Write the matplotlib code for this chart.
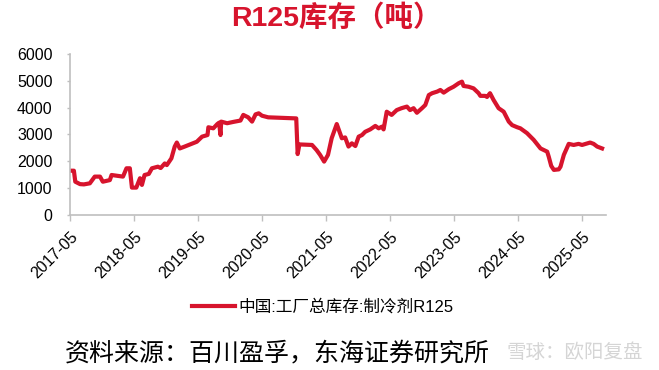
import matplotlib
matplotlib.use('Agg')
import matplotlib.pyplot as plt
import pandas as pd

plt.rcParams['font.family'] = ['Liberation Sans', 'Noto Sans CJK SC', 'DejaVu Sans']

# ---------------- data (tons)
dates = [
    '2017-05-01', '2017-05-24', '2017-06-01', '2017-06-28', '2017-07-20', '2017-08-23',
    '2017-09-20', '2017-10-20', '2017-11-05', '2017-12-15', '2017-12-25', '2018-02-28',
    '2018-03-20', '2018-04-08', '2018-04-20', '2018-05-15', '2018-06-05', '2018-06-16',
    '2018-07-01', '2018-07-25', '2018-08-12', '2018-09-15', '2018-10-01', '2018-10-24',
    '2018-11-05', '2018-12-01', '2018-12-20', '2019-01-01', '2019-01-18', '2019-02-15',
    '2019-04-25', '2019-05-25', '2019-06-25', '2019-06-30', '2019-07-28', '2019-08-20',
    '2019-08-30', '2019-09-07', '2019-09-11', '2019-10-15', '2019-11-20', '2019-12-30',
    '2020-01-15', '2020-02-12', '2020-03-05', '2020-03-25', '2020-04-12', '2020-05-01',
    '2020-06-05', '2020-11-12', '2020-11-20', '2020-11-30', '2021-02-10', '2021-03-08',
    '2021-03-28', '2021-04-20', '2021-05-12', '2021-06-02', '2021-07-01', '2021-07-30',
    '2021-08-18', '2021-09-06', '2021-09-25', '2021-10-15', '2021-11-03', '2021-11-22',
    '2021-12-10', '2022-01-08', '2022-02-06', '2022-02-25', '2022-03-15', '2022-03-25',
    '2022-04-12', '2022-05-10', '2022-06-08', '2022-07-05', '2022-08-05', '2022-08-23',
    '2022-09-12', '2022-10-01', '2022-10-30', '2022-11-18', '2022-12-08', '2022-12-27',
    '2023-01-25', '2023-02-12', '2023-03-03', '2023-04-01', '2023-04-28', '2023-05-27',
    '2023-06-15', '2023-06-24', '2023-07-23', '2023-08-20', '2023-09-18', '2023-09-28',
    '2023-10-25', '2023-11-05', '2023-11-22', '2023-12-12', '2024-01-10', '2024-02-08',
    '2024-03-08', '2024-03-27', '2024-04-25', '2024-05-13', '2024-06-20', '2024-07-28',
    '2024-09-05', '2024-10-13', '2024-10-22', '2024-11-05', '2024-11-20', '2024-12-18',
    '2024-12-28', '2025-01-16', '2025-02-13', '2025-03-13', '2025-04-10', '2025-04-30',
    '2025-06-15', '2025-07-05', '2025-07-25', '2025-08-22',
]
stock = [
    1650, 1650, 1240, 1150, 1140, 1180,
    1430, 1430, 1240, 1300, 1490, 1430,
    1740, 1740, 1020, 1020, 1370, 1120,
    1490, 1530, 1740, 1800, 1750, 1920,
    1860, 2110, 2550, 2700, 2480, 2550,
    2730, 2920, 2980, 3270, 3230, 3390,
    3440, 2980, 3480, 3420, 3470, 3520,
    3730, 3640, 3480, 3750, 3790, 3700,
    3640, 3600, 2270, 2630, 2610, 2420,
    2240, 1990, 2240, 2860, 3390, 2860,
    2890, 2550, 2670, 2570, 2920, 2980,
    3100, 3190, 3320, 3230, 3290, 3190,
    3850, 3730, 3910, 3980, 4040, 3910,
    3980, 3810, 3980, 4100, 4470, 4540,
    4600, 4660, 4560, 4690, 4780, 4910,
    4970, 4810, 4780, 4720, 4540, 4440,
    4440, 4400, 4540, 4290, 3980, 3850,
    3480, 3350, 3270, 3230, 3050, 2800,
    2480, 2360, 2170, 1830, 1680, 1700,
    1800, 2240, 2650, 2610, 2650, 2610,
    2700, 2650, 2550, 2480,
]
tick_labels = ['2017-05', '2018-05', '2019-05', '2020-05', '2021-05',
               '2022-05', '2023-05', '2024-05', '2025-05']
y_ticks = [0, 1000, 2000, 3000, 4000, 5000, 6000]

red = '#d7142d'
grey = '#bfbfbf'

fig = plt.figure(figsize=(6.59, 3.70), dpi=100)
ax = fig.add_axes([0.106, 0.419, 0.814, 0.435])

ax.plot(pd.to_datetime(dates), stock, color=red, lw=3.0,
        label='中国:工厂总库存:制冷剂R125')

ax.set_xlim(pd.Timestamp('2017-05-01'), pd.Timestamp('2025-09-15'))
ax.set_ylim(0, 6000)
ax.set_yticks(y_ticks)
ax.set_yticklabels([str(v) for v in y_ticks])
ax.set_xticks(pd.to_datetime([t + '-01' for t in tick_labels]))
ax.set_xticklabels(tick_labels, rotation=45, ha='right', rotation_mode='anchor')

for s in ['top', 'right']:
    ax.spines[s].set_visible(False)
for s in ['left', 'bottom']:
    ax.spines[s].set_color(grey)
    ax.spines[s].set_linewidth(1.2)
ax.tick_params(axis='y', colors=grey, labelcolor='black', labelsize=11.5,
               length=2.5, width=1, pad=10)
ax.tick_params(axis='x', colors=grey, labelcolor='black', labelsize=11.5,
               length=4, width=1, pad=6)

fig.text(0.51, 0.952, 'R125库存（吨）', ha='center', va='center',
         color=red, fontsize=20.5, fontweight='bold')

fig.legend(loc='center', bbox_to_anchor=(0.49, 0.17), frameon=False,
           handlelength=2.6, handletextpad=0.2,
           prop={'family': ['Liberation Sans', 'Noto Sans CJK SC'], 'size': 12})

fig.text(0.098, 0.046, '资料来源：百川盈孚，东海证券研究所', ha='left', va='center',
         fontsize=18, family=['Noto Sans CJK SC'])
fig.text(0.975, 0.046, '雪球：欧阳复盘', ha='right', va='center',
         fontsize=14, color='#d5d5d5', family=['Noto Sans CJK SC'])

fig.savefig('out.png', dpi=100)
